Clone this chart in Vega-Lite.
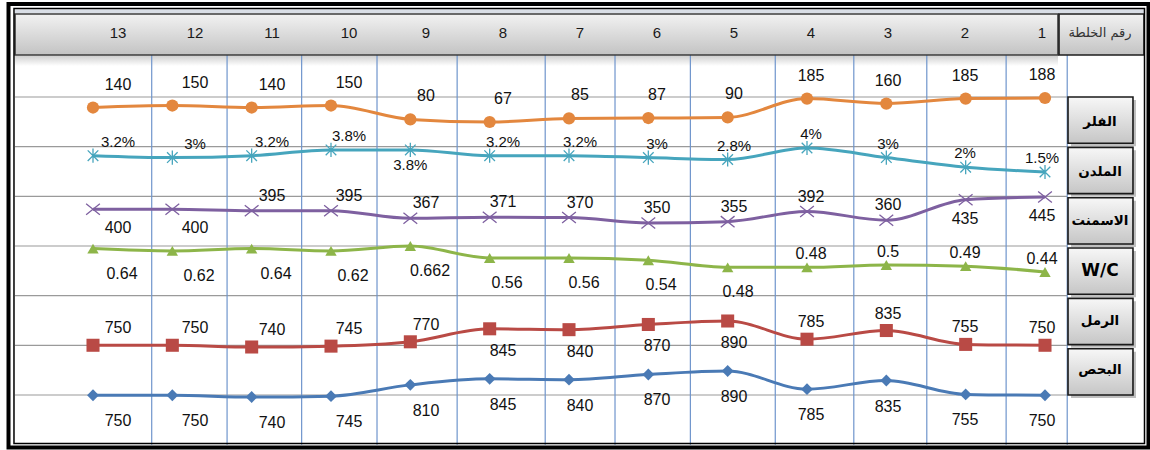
{
  "$schema": "https://vega.github.io/schema/vega-lite/v6.json",
  "width": 1150,
  "height": 450,
  "autosize": {"type": "none"},
  "padding": 0,
  "background": "white",
  "config": {"view": {"stroke": null}},
  "datasets": {
    "filler": [{"mix":1,"value":188},{"mix":2,"value":185},{"mix":3,"value":160},{"mix":4,"value":185},{"mix":5,"value":90},{"mix":6,"value":87},{"mix":7,"value":85},{"mix":8,"value":67},{"mix":9,"value":80},{"mix":10,"value":150},{"mix":11,"value":140},{"mix":12,"value":150},{"mix":13,"value":140}],
    "plast": [{"mix":1,"value":0.015},{"mix":2,"value":0.02},{"mix":3,"value":0.03},{"mix":4,"value":0.04},{"mix":5,"value":0.028},{"mix":6,"value":0.03},{"mix":7,"value":0.032},{"mix":8,"value":0.032},{"mix":9,"value":0.038},{"mix":10,"value":0.038},{"mix":11,"value":0.032},{"mix":12,"value":0.03},{"mix":13,"value":0.032}],
    "cement": [{"mix":1,"value":445},{"mix":2,"value":435},{"mix":3,"value":360},{"mix":4,"value":392},{"mix":5,"value":355},{"mix":6,"value":350},{"mix":7,"value":370},{"mix":8,"value":371},{"mix":9,"value":367},{"mix":10,"value":395},{"mix":11,"value":395},{"mix":12,"value":400},{"mix":13,"value":400}],
    "wc": [{"mix":1,"value":0.44},{"mix":2,"value":0.49},{"mix":3,"value":0.5},{"mix":4,"value":0.48},{"mix":5,"value":0.48},{"mix":6,"value":0.54},{"mix":7,"value":0.56},{"mix":8,"value":0.56},{"mix":9,"value":0.662},{"mix":10,"value":0.62},{"mix":11,"value":0.64},{"mix":12,"value":0.62},{"mix":13,"value":0.64}],
    "sand": [{"mix":1,"value":750},{"mix":2,"value":755},{"mix":3,"value":835},{"mix":4,"value":785},{"mix":5,"value":890},{"mix":6,"value":870},{"mix":7,"value":840},{"mix":8,"value":845},{"mix":9,"value":770},{"mix":10,"value":745},{"mix":11,"value":740},{"mix":12,"value":750},{"mix":13,"value":750}],
    "gravel": [{"mix":1,"value":750},{"mix":2,"value":755},{"mix":3,"value":835},{"mix":4,"value":785},{"mix":5,"value":890},{"mix":6,"value":870},{"mix":7,"value":840},{"mix":8,"value":845},{"mix":9,"value":810},{"mix":10,"value":745},{"mix":11,"value":740},{"mix":12,"value":750},{"mix":13,"value":750}],
    "rows": [{"k":1},{"k":2},{"k":3},{"k":4},{"k":5},{"k":6},{"k":7}],
    "cols": [{"edge":12.26},{"edge":11.31},{"edge":10.37},{"edge":9.42},{"edge":8.41},{"edge":7.30},{"edge":6.42},{"edge":5.47},{"edge":4.40},{"edge":3.41},{"edge":2.49},{"edge":1.49},{"edge":0.72}],
    "params": [{"name":"الفلر"},{"name":"الملدن"},{"name":"الاسمنت"},{"name":"W/C"},{"name":"الرمل"},{"name":"البحص"}],
    "one": [{"id":1}]
  },
  "resolve": {"scale": {"x": "independent", "y": "independent"}},
  "layer": [
    {
      "data": {"name": "one"},
      "mark": {"type": "rect", "fill": "#d9dee6"},
      "encoding": {
        "x": {"datum": 13.983, "type": "quantitative", "scale": {"domain": [1, 13], "range": [1045, 93], "zero": false, "nice": false}, "axis": null},
        "x2": {"datum": -0.248},
        "y": {"datum": -0.762, "type": "quantitative", "scale": {"domain": [1, 7], "range": [97, 395], "zero": false, "nice": false}, "axis": null},
        "y2": {"datum": -0.681}
      }
    },
    {
      "data": {"name": "one"},
      "mark": {"type": "rect", "fill": {"gradient": "linear", "x1": 0, "y1": 0, "x2": 0, "y2": 1, "stops": [{"offset": 0, "color": "#cfcfcf"}, {"offset": 1, "color": "#ffffff"}]}},
      "encoding": {
        "x": {"datum": 13.983, "type": "quantitative", "scale": {"domain": [1, 13], "range": [1045, 93], "zero": false, "nice": false}, "axis": null},
        "x2": {"datum": 0.836},
        "y": {"datum": 0.164, "type": "quantitative", "scale": {"domain": [1, 7], "range": [97, 395], "zero": false, "nice": false}, "axis": null},
        "y2": {"datum": 0.376}
      }
    },
    {
      "data": {"name": "rows"},
      "mark": {"type": "rule", "stroke": "#9a9a9a", "strokeWidth": 1.2},
      "encoding": {
        "y": {"field": "k", "type": "quantitative", "scale": {"domain": [1, 7], "range": [97, 395], "zero": false, "nice": false}, "axis": null},
        "x": {"datum": 13.983, "type": "quantitative", "scale": {"domain": [1, 13], "range": [1045, 93], "zero": false, "nice": false}, "axis": null},
        "x2": {"datum": 0.7227}
      }
    },
    {
      "data": {"name": "cols"},
      "mark": {"type": "rule", "stroke": "#6f95cc", "strokeWidth": 1.2},
      "encoding": {
        "x": {"field": "edge", "type": "quantitative", "scale": {"domain": [1, 13], "range": [1045, 93], "zero": false, "nice": false}, "axis": null},
        "y": {"datum": 0.1544, "type": "quantitative", "scale": {"domain": [1, 7], "range": [97, 395], "zero": false, "nice": false}, "axis": null},
        "y2": {"datum": 8.0}
      }
    },
    {
      "data": {"name": "one"},
      "mark": {"type": "rect", "fill": {"gradient": "linear", "x1": 0, "y1": 0, "x2": 0, "y2": 1, "stops": [{"offset": 0, "color": "#f2f2f2"}, {"offset": 1, "color": "#c3c3c3"}]}, "stroke": "#3c3c3c", "strokeWidth": 1.6},
      "encoding": {
        "x": {"datum": 13.983, "type": "quantitative", "scale": {"domain": [1, 13], "range": [1045, 93], "zero": false, "nice": false}, "axis": null},
        "x2": {"datum": 0.836},
        "y": {"datum": -0.671, "type": "quantitative", "scale": {"domain": [1, 7], "range": [97, 395], "zero": false, "nice": false}, "axis": null},
        "y2": {"datum": 0.1544}
      }
    },
    {
      "data": {"name": "one"},
      "mark": {"type": "rect", "fill": {"gradient": "linear", "x1": 0, "y1": 0, "x2": 0, "y2": 1, "stops": [{"offset": 0, "color": "#f2f2f2"}, {"offset": 1, "color": "#c3c3c3"}]}, "stroke": "#1e1e1e", "strokeWidth": 1.6},
      "encoding": {
        "x": {"datum": 0.8235, "type": "quantitative", "scale": {"domain": [1, 13], "range": [1045, 93], "zero": false, "nice": false}, "axis": null},
        "x2": {"datum": -0.248},
        "y": {"datum": -0.671, "type": "quantitative", "scale": {"domain": [1, 7], "range": [97, 395], "zero": false, "nice": false}, "axis": null},
        "y2": {"datum": 0.1544}
      }
    },
    {
      "data": {"name": "one"},
      "mark": {"type": "text", "text": "رقم الخلطة", "font": "DejaVu Sans", "fontSize": 13, "fill": "#333333"},
      "encoding": {
        "x": {"datum": 0.307, "type": "quantitative", "scale": {"domain": [1, 13], "range": [1045, 93], "zero": false, "nice": false}, "axis": null},
        "y": {"datum": -0.29, "type": "quantitative", "scale": {"domain": [1, 7], "range": [97, 395], "zero": false, "nice": false}, "axis": null}
      }
    },
    {
      "data": {"name": "filler"},
      "mark": {"type": "text", "font": "Liberation Sans", "fontSize": 15, "fill": "#1a1a1a"},
      "encoding": {
        "x": {"field": "mix", "type": "quantitative", "scale": {"domain": [1, 13], "range": [1042, 118], "zero": false, "nice": false}, "axis": null},
        "y": {"datum": -0.28, "type": "quantitative", "scale": {"domain": [1, 7], "range": [97, 395], "zero": false, "nice": false}, "axis": null},
        "text": {"field": "mix", "type": "nominal"}
      }
    },
    {
      "data": {"name": "one"},
      "mark": {"type": "rect", "fillOpacity": 0, "stroke": "#000000", "strokeWidth": 4},
      "encoding": {
        "x": {"datum": 14.065, "type": "quantitative", "scale": {"domain": [1, 13], "range": [1045, 93], "zero": false, "nice": false}, "axis": null},
        "x2": {"datum": -0.3046},
        "y": {"datum": -0.8725, "type": "quantitative", "scale": {"domain": [1, 7], "range": [97, 395], "zero": false, "nice": false}, "axis": null},
        "y2": {"datum": 8.057}
      }
    },
    {
      "data": {"name": "one"},
      "mark": {"type": "rect", "fillOpacity": 0, "stroke": "#000000", "strokeWidth": 1.5},
      "encoding": {
        "x": {"datum": 13.996, "type": "quantitative", "scale": {"domain": [1, 13], "range": [1045, 93], "zero": false, "nice": false}, "axis": null},
        "x2": {"datum": -0.2542},
        "y": {"datum": -0.782, "type": "quantitative", "scale": {"domain": [1, 7], "range": [97, 395], "zero": false, "nice": false}, "axis": null},
        "y2": {"datum": 7.977}
      }
    },

    {
      "data": {"name": "filler"},
      "mark": {"type": "line", "interpolate": "monotone", "stroke": "#E3873E", "strokeWidth": 3},
      "encoding": {
        "x": {"field": "mix", "type": "quantitative", "scale": {"domain": [1, 13], "range": [1045, 93], "zero": false, "nice": false}, "axis": null},
        "y": {"field": "value", "type": "quantitative", "scale": {"domain": [67, 188], "range": [122, 98], "zero": false, "nice": false}, "axis": null}
      }
    },
    {
      "data": {"name": "filler"},
      "mark": {"type": "point", "shape": "circle", "filled": true, "size": 150, "fill": "#E3873E", "opacity": 1},
      "encoding": {
        "x": {"field": "mix", "type": "quantitative", "scale": {"domain": [1, 13], "range": [1045, 93], "zero": false, "nice": false}, "axis": null},
        "y": {"field": "value", "type": "quantitative", "scale": {"domain": [67, 188], "range": [122, 98], "zero": false, "nice": false}, "axis": null}
      }
    },
    {
      "data": {"name": "filler"},
      "mark": {"type": "text", "font": "Liberation Sans", "fontSize": 16, "fill": "#111111", "dy": -23},
      "encoding": {
        "x": {"field": "mix", "type": "quantitative", "scale": {"domain": [1, 13], "range": [1042, 118], "zero": false, "nice": false}, "axis": null},
        "y": {"field": "value", "type": "quantitative", "scale": {"domain": [67, 188], "range": [122, 98], "zero": false, "nice": false}, "axis": null},
        "text": {"field": "value", "type": "nominal"}
      }
    },

    {
      "data": {"name": "plast"},
      "mark": {"type": "line", "interpolate": "monotone", "stroke": "#46A5BD", "strokeWidth": 3},
      "encoding": {
        "x": {"field": "mix", "type": "quantitative", "scale": {"domain": [1, 13], "range": [1045, 93], "zero": false, "nice": false}, "axis": null},
        "y": {"field": "value", "type": "quantitative", "scale": {"domain": [0.015, 0.04], "range": [172, 148], "zero": false, "nice": false}, "axis": null}
      }
    },
    {
      "data": {"name": "plast"},
      "mark": {"type": "point", "shape": "M-0.75,-0.75L0.75,0.75M-0.75,0.75L0.75,-0.75M0,-1L0,1", "filled": false, "size": 200, "stroke": "#46A5BD", "strokeWidth": 1.3, "opacity": 1},
      "encoding": {
        "x": {"field": "mix", "type": "quantitative", "scale": {"domain": [1, 13], "range": [1045, 93], "zero": false, "nice": false}, "axis": null},
        "y": {"field": "value", "type": "quantitative", "scale": {"domain": [0.015, 0.04], "range": [172, 148], "zero": false, "nice": false}, "axis": null}
      }
    },
    {
      "data": {"name": "plast"},
      "transform": [{"filter": "datum.mix != 9"}],
      "mark": {"type": "text", "font": "Liberation Sans", "fontSize": 15, "fill": "#111111", "dy": -14},
      "encoding": {
        "x": {"field": "mix", "type": "quantitative", "scale": {"domain": [1, 13], "range": [1042, 118], "zero": false, "nice": false}, "axis": null},
        "y": {"field": "value", "type": "quantitative", "scale": {"domain": [0.015, 0.04], "range": [172, 148], "zero": false, "nice": false}, "axis": null},
        "text": {"field": "value", "type": "quantitative", "format": ".1~%"}
      }
    },
    {
      "data": {"name": "plast"},
      "transform": [{"filter": "datum.mix == 9"}],
      "mark": {"type": "text", "font": "Liberation Sans", "fontSize": 15, "fill": "#111111", "dy": 15},
      "encoding": {
        "x": {"field": "mix", "type": "quantitative", "scale": {"domain": [1, 13], "range": [1045, 93], "zero": false, "nice": false}, "axis": null},
        "y": {"field": "value", "type": "quantitative", "scale": {"domain": [0.015, 0.04], "range": [172, 148], "zero": false, "nice": false}, "axis": null},
        "text": {"field": "value", "type": "quantitative", "format": ".1~%"}
      }
    },

    {
      "data": {"name": "cement"},
      "mark": {"type": "line", "interpolate": "monotone", "stroke": "#7E60A0", "strokeWidth": 3},
      "encoding": {
        "x": {"field": "mix", "type": "quantitative", "scale": {"domain": [1, 13], "range": [1045, 93], "zero": false, "nice": false}, "axis": null},
        "y": {"field": "value", "type": "quantitative", "scale": {"domain": [350, 445], "range": [223, 197], "zero": false, "nice": false}, "axis": null}
      }
    },
    {
      "data": {"name": "cement"},
      "mark": {"type": "point", "shape": "M-1,-0.8L1,0.8M-1,0.8L1,-0.8", "filled": false, "size": 190, "stroke": "#7E60A0", "strokeWidth": 1.3, "opacity": 1},
      "encoding": {
        "x": {"field": "mix", "type": "quantitative", "scale": {"domain": [1, 13], "range": [1045, 93], "zero": false, "nice": false}, "axis": null},
        "y": {"field": "value", "type": "quantitative", "scale": {"domain": [350, 445], "range": [223, 197], "zero": false, "nice": false}, "axis": null}
      }
    },
    {
      "data": {"name": "cement"},
      "transform": [{"filter": "datum.value < 400"}],
      "mark": {"type": "text", "font": "Liberation Sans", "fontSize": 16, "fill": "#111111", "dy": -15},
      "encoding": {
        "x": {"field": "mix", "type": "quantitative", "scale": {"domain": [1, 13], "range": [1042, 118], "zero": false, "nice": false}, "axis": null},
        "y": {"field": "value", "type": "quantitative", "scale": {"domain": [350, 445], "range": [223, 197], "zero": false, "nice": false}, "axis": null},
        "text": {"field": "value", "type": "nominal"}
      }
    },
    {
      "data": {"name": "cement"},
      "transform": [{"filter": "datum.value >= 400"}],
      "mark": {"type": "text", "font": "Liberation Sans", "fontSize": 16, "fill": "#111111", "dy": 19},
      "encoding": {
        "x": {"field": "mix", "type": "quantitative", "scale": {"domain": [1, 13], "range": [1042, 118], "zero": false, "nice": false}, "axis": null},
        "y": {"field": "value", "type": "quantitative", "scale": {"domain": [350, 445], "range": [223, 197], "zero": false, "nice": false}, "axis": null},
        "text": {"field": "value", "type": "nominal"}
      }
    },

    {
      "data": {"name": "wc"},
      "mark": {"type": "line", "interpolate": "monotone", "stroke": "#8DB549", "strokeWidth": 3},
      "encoding": {
        "x": {"field": "mix", "type": "quantitative", "scale": {"domain": [1, 13], "range": [1045, 93], "zero": false, "nice": false}, "axis": null},
        "y": {"field": "value", "type": "quantitative", "scale": {"domain": [0.44, 0.662], "range": [272, 246], "zero": false, "nice": false}, "axis": null}
      }
    },
    {
      "data": {"name": "wc"},
      "mark": {"type": "point", "shape": "triangle-up", "filled": true, "size": 130, "fill": "#8DB549", "opacity": 1},
      "encoding": {
        "x": {"field": "mix", "type": "quantitative", "scale": {"domain": [1, 13], "range": [1045, 93], "zero": false, "nice": false}, "axis": null},
        "y": {"field": "value", "type": "quantitative", "scale": {"domain": [0.44, 0.662], "range": [272, 246], "zero": false, "nice": false}, "axis": null}
      }
    },
    {
      "data": {"name": "wc"},
      "transform": [{"filter": "datum.mix >= 5"}],
      "mark": {"type": "text", "font": "Liberation Sans", "fontSize": 16, "fill": "#111111", "dy": 25, "dx": 4},
      "encoding": {
        "x": {"field": "mix", "type": "quantitative", "scale": {"domain": [1, 13], "range": [1042, 118], "zero": false, "nice": false}, "axis": null},
        "y": {"field": "value", "type": "quantitative", "scale": {"domain": [0.44, 0.662], "range": [272, 246], "zero": false, "nice": false}, "axis": null},
        "text": {"field": "value", "type": "nominal"}
      }
    },
    {
      "data": {"name": "wc"},
      "transform": [{"filter": "datum.mix < 5"}],
      "mark": {"type": "text", "font": "Liberation Sans", "fontSize": 16, "fill": "#111111", "dy": -13},
      "encoding": {
        "x": {"field": "mix", "type": "quantitative", "scale": {"domain": [1, 13], "range": [1042, 118], "zero": false, "nice": false}, "axis": null},
        "y": {"field": "value", "type": "quantitative", "scale": {"domain": [0.44, 0.662], "range": [272, 246], "zero": false, "nice": false}, "axis": null},
        "text": {"field": "value", "type": "nominal"}
      }
    },

    {
      "data": {"name": "sand"},
      "mark": {"type": "line", "interpolate": "monotone", "stroke": "#B94A45", "strokeWidth": 3},
      "encoding": {
        "x": {"field": "mix", "type": "quantitative", "scale": {"domain": [1, 13], "range": [1045, 93], "zero": false, "nice": false}, "axis": null},
        "y": {"field": "value", "type": "quantitative", "scale": {"domain": [740, 890], "range": [347, 321], "zero": false, "nice": false}, "axis": null}
      }
    },
    {
      "data": {"name": "sand"},
      "mark": {"type": "point", "shape": "square", "filled": true, "size": 170, "fill": "#B94A45", "opacity": 1},
      "encoding": {
        "x": {"field": "mix", "type": "quantitative", "scale": {"domain": [1, 13], "range": [1045, 93], "zero": false, "nice": false}, "axis": null},
        "y": {"field": "value", "type": "quantitative", "scale": {"domain": [740, 890], "range": [347, 321], "zero": false, "nice": false}, "axis": null}
      }
    },
    {
      "data": {"name": "sand"},
      "transform": [{"filter": "datum.mix < 5 || datum.mix > 8"}],
      "mark": {"type": "text", "font": "Liberation Sans", "fontSize": 16, "fill": "#111111", "dy": -17},
      "encoding": {
        "x": {"field": "mix", "type": "quantitative", "scale": {"domain": [1, 13], "range": [1042, 118], "zero": false, "nice": false}, "axis": null},
        "y": {"field": "value", "type": "quantitative", "scale": {"domain": [740, 890], "range": [347, 321], "zero": false, "nice": false}, "axis": null},
        "text": {"field": "value", "type": "nominal"}
      }
    },
    {
      "data": {"name": "sand"},
      "transform": [{"filter": "datum.mix >= 5 && datum.mix <= 8"}],
      "mark": {"type": "text", "font": "Liberation Sans", "fontSize": 16, "fill": "#111111", "dy": 22},
      "encoding": {
        "x": {"field": "mix", "type": "quantitative", "scale": {"domain": [1, 13], "range": [1042, 118], "zero": false, "nice": false}, "axis": null},
        "y": {"field": "value", "type": "quantitative", "scale": {"domain": [740, 890], "range": [347, 321], "zero": false, "nice": false}, "axis": null},
        "text": {"field": "value", "type": "nominal"}
      }
    },

    {
      "data": {"name": "gravel"},
      "mark": {"type": "line", "interpolate": "monotone", "stroke": "#4A7AB5", "strokeWidth": 3},
      "encoding": {
        "x": {"field": "mix", "type": "quantitative", "scale": {"domain": [1, 13], "range": [1045, 93], "zero": false, "nice": false}, "axis": null},
        "y": {"field": "value", "type": "quantitative", "scale": {"domain": [740, 890], "range": [397, 371], "zero": false, "nice": false}, "axis": null}
      }
    },
    {
      "data": {"name": "gravel"},
      "mark": {"type": "point", "shape": "diamond", "filled": true, "size": 140, "fill": "#4A7AB5", "opacity": 1},
      "encoding": {
        "x": {"field": "mix", "type": "quantitative", "scale": {"domain": [1, 13], "range": [1045, 93], "zero": false, "nice": false}, "axis": null},
        "y": {"field": "value", "type": "quantitative", "scale": {"domain": [740, 890], "range": [397, 371], "zero": false, "nice": false}, "axis": null}
      }
    },
    {
      "data": {"name": "gravel"},
      "mark": {"type": "text", "font": "Liberation Sans", "fontSize": 16, "fill": "#111111", "dy": 26},
      "encoding": {
        "x": {"field": "mix", "type": "quantitative", "scale": {"domain": [1, 13], "range": [1042, 118], "zero": false, "nice": false}, "axis": null},
        "y": {"field": "value", "type": "quantitative", "scale": {"domain": [740, 890], "range": [397, 371], "zero": false, "nice": false}, "axis": null},
        "text": {"field": "value", "type": "nominal"}
      }
    },

    {
      "data": {"name": "params"},
      "mark": {"type": "rect", "fill": "#8a8a8a", "opacity": 0.55},
      "encoding": {
        "x": {"datum": 0.672, "type": "quantitative", "scale": {"domain": [1, 13], "range": [1045, 93], "zero": false, "nice": false}, "axis": null},
        "x2": {"datum": -0.147},
        "y": {"field": "name", "type": "nominal", "sort": null, "scale": {"domain": ["الفلر", "الملدن", "الاسمنت", "W/C", "الرمل", "البحص"], "range": [100, 398], "paddingInner": 0.08, "paddingOuter": 0}, "axis": null}
      }
    },
    {
      "data": {"name": "params"},
      "mark": {"type": "rect", "fill": {"gradient": "linear", "x1": 0, "y1": 0, "x2": 0, "y2": 1, "stops": [{"offset": 0, "color": "#f7f7f7"}, {"offset": 1, "color": "#c6c6c6"}]}, "stroke": "#1a1a1a", "strokeWidth": 1.6},
      "encoding": {
        "x": {"datum": 0.71, "type": "quantitative", "scale": {"domain": [1, 13], "range": [1045, 93], "zero": false, "nice": false}, "axis": null},
        "x2": {"datum": -0.109},
        "y": {"field": "name", "type": "nominal", "sort": null, "scale": {"domain": ["الفلر", "الملدن", "الاسمنت", "W/C", "الرمل", "البحص"], "range": [97, 395], "paddingInner": 0.08, "paddingOuter": 0}, "axis": null}
      }
    },
    {
      "data": {"name": "params"},
      "mark": {"type": "text", "font": "DejaVu Sans", "fontWeight": "bold", "fill": "#000000"},
      "encoding": {
        "x": {"datum": 0.307, "type": "quantitative", "scale": {"domain": [1, 13], "range": [1045, 93], "zero": false, "nice": false}, "axis": null},
        "y": {"field": "name", "type": "nominal", "sort": null, "scale": {"domain": ["الفلر", "الملدن", "الاسمنت", "W/C", "الرمل", "البحص"], "range": [97, 395], "paddingInner": 0.08, "paddingOuter": 0}, "axis": null},
        "text": {"field": "name", "type": "nominal"},
        "size": {"condition": {"test": "datum.name == 'W/C'", "value": 17}, "value": 13.5}
      }
    }
  ]
}
